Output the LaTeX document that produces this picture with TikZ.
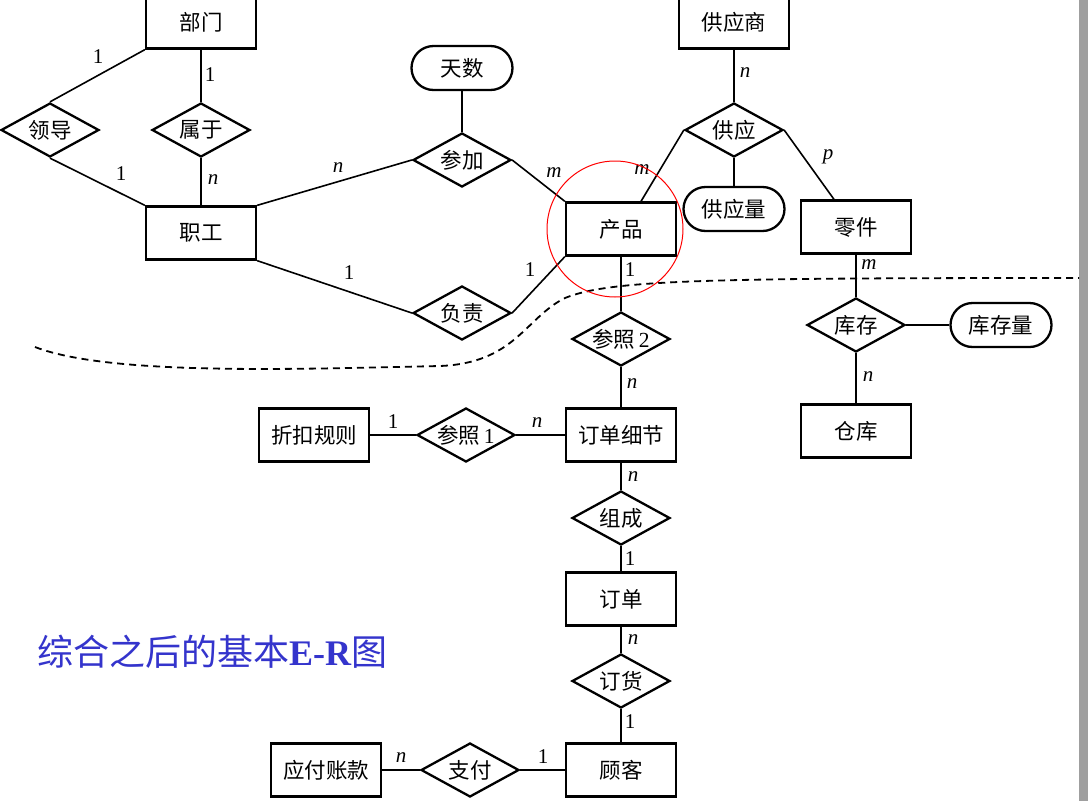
\documentclass[tikz,border=0pt]{standalone}
\usepackage{fontspec}
\setmainfont{Liberation Serif}
\newfontfamily\zhfont{Noto Sans CJK SC}
\usetikzlibrary{shapes.geometric,shapes.misc}
\definecolor{titleblue}{RGB}{52,52,204}
\tikzset{
  ent/.style={draw,line width=2.3pt,minimum width=110pt,minimum height=53pt,inner sep=0pt,font=\zhfont\fontsize{21.5}{24}\selectfont},
  rel/.style={draw,diamond,line width=2.3pt,minimum width=98pt,minimum height=54pt,inner sep=0pt,shape aspect=1.85,font=\zhfont\fontsize{21.5}{24}\selectfont},
  attr/.style={draw,rounded rectangle,line width=2.3pt,minimum width=101pt,minimum height=44pt,inner sep=0pt,font=\zhfont\fontsize{21.5}{24}\selectfont},
  conn/.style={line width=1.6pt},
  card/.style={inner sep=0pt,font=\fontsize{21}{24}\selectfont},
}
\begin{document}
\begin{tikzpicture}[x=1pt,y=-1pt]
\useasboundingbox (0,0) rectangle (1088,801);
\fill[white] (0,0) rectangle (1088,801);
\fill[gray!75] (1079,0) rectangle (1088,801);
% dashed separator
\draw[dashed,line width=1.8pt,dash pattern=on 7pt off 5pt]
  (35,347) .. controls (110,376) and (300,369) .. (440,366)
  .. controls (515,363) and (525,318) .. (565,298)
  .. controls (610,280) and (700,278) .. (1079,278);
% entities
\node[ent] (bm) at (201,22) {部门};
\node[ent] (zg) at (201,233) {职工};
\node[ent] (cp) at (621,229) {产品};
\node[ent] (gys) at (734,22) {供应商};
\node[ent] (lj) at (856,227) {零件};
\node[ent] (ck) at (856,431) {仓库};
\node[ent] (ddxj) at (621,435) {订单细节};
\node[ent] (zkgz) at (314,435) {折扣规则};
\node[ent] (dd) at (621,599) {订单};
\node[ent] (gk) at (621,770) {顾客};
\node[ent] (yfzk) at (326,770) {应付账款};
% relationships
\node[rel] (ld) at (50,130) {领导};
\node[rel] (sy) at (201,130) {属于};
\node[rel] (cj) at (462,160) {参加};
\node[rel] (fz) at (462,313) {负责};
\node[rel] (gy) at (734,130) {供应};
\node[rel] (kc) at (856,325) {库存};
\node[rel] (cz2) at (621,339) {参照\,{\rmfamily 2}};
\node[rel] (cz1) at (466,435) {参照\,{\rmfamily 1}};
\node[rel] (zc) at (621,518) {组成};
\node[rel] (dh) at (621,681) {订货};
\node[rel] (zf) at (470,770) {支付};
% attributes
\node[attr] (ts) at (462,68) {天数};
\node[attr] (gyl) at (734,209) {供应量};
\node[attr] (kcl) at (1001,325) {库存量};
% connectors
\draw[conn] (bm.south west) -- (ld.north);
\draw[conn] (ld.south) -- (zg.north west);
\draw[conn] (bm.south) -- (sy.north);
\draw[conn] (sy.south) -- (zg.north);
\draw[conn] (zg.north east) -- (cj.west);
\draw[conn] (cj.east) -- (cp.north west);
\draw[conn] (ts.south) -- (cj.north);
\draw[conn] (zg.south east) -- (fz.west);
\draw[conn] (fz.east) -- (cp.south west);
\draw[conn] (gys.south) -- (gy.north);
\draw[conn] (gy.west) -- ([xshift=20pt]cp.north);
\draw[conn] (gy.east) -- ([xshift=-22pt]lj.north);
\draw[conn] (gy.south) -- (gyl.north);
\draw[conn] (lj.south) -- (kc.north);
\draw[conn] (kc.east) -- (kcl.west);
\draw[conn] (kc.south) -- (ck.north);
\draw[conn] (cp.south) -- (cz2.north);
\draw[conn] (cz2.south) -- (ddxj.north);
\draw[conn] (zkgz.east) -- (cz1.west);
\draw[conn] (cz1.east) -- (ddxj.west);
\draw[conn] (ddxj.south) -- (zc.north);
\draw[conn] (zc.south) -- (dd.north);
\draw[conn] (dd.south) -- (dh.north);
\draw[conn] (dh.south) -- (gk.north);
\draw[conn] (yfzk.east) -- (zf.west);
\draw[conn] (zf.east) -- (gk.west);
% cardinalities
\node[card] (c1) at (98,57) {1};
\node[card] (c2) at (121,174) {1};
\node[card] (c3) at (210,75) {1};
\node[card] (c4) at (213,180) {\textit{n}};
\node[card] (c5) at (338,168) {\textit{n}};
\node[card] (c6) at (554,173) {\textit{m}};
\node[card] (c7) at (349,273) {1};
\node[card] (c8) at (530,270) {1};
\node[card] (c9) at (630,270) {1};
\node[card] (c10) at (745,73) {\textit{n}};
\node[card] (c11) at (642,170) {\textit{m}};
\node[card] (c12) at (828,157) {\textit{p}};
\node[card] (c13) at (869,265) {\textit{m}};
\node[card] (c14) at (868,377) {\textit{n}};
\node[card] (c15) at (632,384) {\textit{n}};
\node[card] (c16) at (393,422) {1};
\node[card] (c17) at (537,423) {\textit{n}};
\node[card] (c18) at (633,477) {\textit{n}};
\node[card] (c19) at (630,559) {1};
\node[card] (c20) at (633,640) {\textit{n}};
\node[card] (c21) at (630,722) {1};
\node[card] (c22) at (401,758) {\textit{n}};
\node[card] (c23) at (543,757) {1};
% highlight circle
\draw[red,line width=1pt] (615,229) circle[radius=68];
% title
\node[anchor=west,inner sep=0pt,text=titleblue,font=\fontsize{36}{40}\selectfont] (title) at (37,652)
  {{\zhfont 综合之后的基本}{\bfseries E-R}{\zhfont 图}};
\end{tikzpicture}
\end{document}
